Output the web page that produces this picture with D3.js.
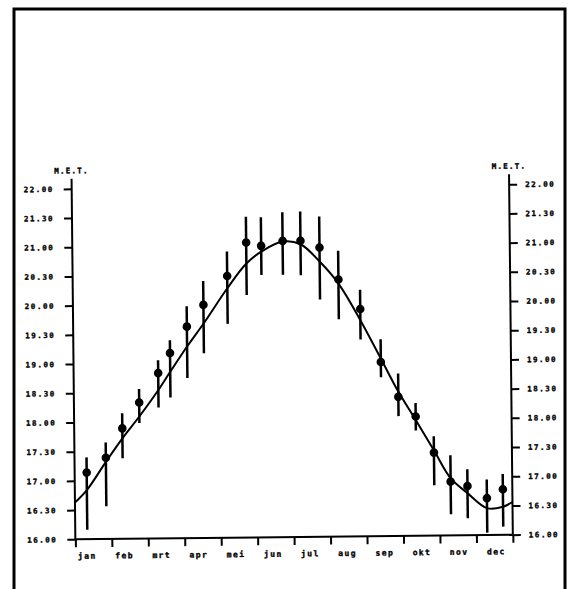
<!DOCTYPE html>
<html>
<head>
<meta charset="utf-8">
<script src="https://cdn.jsdelivr.net/npm/d3@7"></script>
<style>
  body { margin: 0; background: #fff; }
  svg { display: block; }
  .lbl { font-family: "DejaVu Sans Mono", monospace; font-weight: bold; fill: #000; stroke: #000; stroke-width: 0.35px; }
</style>
</head>
<body>
<div id="chart"></div>
<script>
// month names (Dutch) along the bottom
const months = ["jan", "feb", "mrt", "apr", "mei", "jun", "jul", "aug", "sep", "okt", "nov", "dec"];

// y ticks, hours in decimal, labelled as hh.mm
const tickValues = [16, 16.5, 17, 17.5, 18, 18.5, 19, 19.5, 20, 20.5, 21, 21.5, 22];
const tickLabels = ["16.00", "16.30", "17.00", "17.30", "18.00", "18.30", "19.00",
                    "19.30", "20.00", "20.30", "21.00", "21.30", "22.00"];

// observations: position in months, mean time and spread (hours)
const obsMonth = [0.33, 0.86, 1.32, 1.79, 2.32, 2.65, 3.12, 3.58, 4.24, 4.77, 5.18, 5.77,
                  6.26, 6.78, 7.29, 7.88, 8.43, 8.90, 9.37, 9.86, 10.31, 10.77, 11.30, 11.74];
const obsMean = [17.14, 17.39, 17.89, 18.33, 18.83, 19.17, 19.62, 19.99, 20.48, 21.05, 20.99, 21.07,
                 21.07, 20.95, 20.40, 19.89, 18.98, 18.38, 18.04, 17.42, 16.92, 16.84, 16.63, 16.78];
const obsHigh = [17.40, 17.65, 18.15, 18.56, 19.05, 19.39, 19.97, 20.40, 20.90, 21.49, 21.48, 21.56,
                 21.57, 21.48, 20.89, 20.22, 19.37, 18.78, 18.27, 17.70, 17.37, 17.13, 16.95, 17.04];
const obsLow = [16.16, 16.56, 17.38, 17.98, 18.24, 18.41, 18.74, 19.16, 19.66, 20.15, 20.49, 20.49,
                20.48, 20.06, 19.72, 19.37, 18.72, 18.05, 17.80, 16.86, 16.36, 16.29, 16.04, 16.14];

// fitted curve
const curveMonth = [0, 0.33, 0.86, 1.32, 1.79, 2.32, 2.65, 3.12, 3.58, 4.24, 4.77, 5.18, 5.77,
                    6.26, 6.78, 7.29, 7.88, 8.43, 8.90, 9.37, 9.86, 10.31, 10.77, 11.30, 11.74, 12];
const curveValue = [16.63, 16.84, 17.32, 17.72, 18.09, 18.54, 18.85, 19.28, 19.67, 20.27, 20.69, 20.89, 21.06,
                    21.01, 20.71, 20.33, 19.70, 19.04, 18.47, 17.98, 17.46, 16.98, 16.72, 16.46, 16.48, 16.56];

const W = 568, H = 589;
const plot = { left: 73.5, right: 511, top: 186.5, bottom: 537 };

const svg = d3.select("#chart").append("svg").attr("width", W).attr("height", H);
svg.append("rect").attr("width", W).attr("height", H).attr("fill", "#fff");

// page frame (open at the bottom)
svg.append("path")
  .attr("d", `M14,${H + 5}V9H565V${H + 5}`)
  .attr("fill", "none").attr("stroke", "#000").attr("stroke-width", 3);

// the scanned chart sits slightly tilted
const g = svg.append("g").attr("transform", "rotate(-0.6, 292, 362)");

const x = d3.scaleLinear().domain([0, 12]).range([plot.left, plot.right]);
const y = d3.scaleLinear().domain([16, 22]).range([plot.bottom, plot.top]);

function styleAxis(sel) {
  sel.select(".domain").remove();
  sel.selectAll(".tick line").attr("stroke", "#000").attr("stroke-width", 2);
  sel.selectAll(".tick text")
    .attr("class", "lbl")
    .style("font-size", "7.5px")
    .style("letter-spacing", "1.5px");
}

const fmt = (d) => tickLabels[tickValues.indexOf(d)];

// left axis
g.append("g")
  .attr("transform", `translate(${plot.left},0)`)
  .call(d3.axisLeft(y).tickValues(tickValues).tickFormat(fmt).tickSize(8).tickPadding(10))
  .call(styleAxis);

// right axis
g.append("g")
  .attr("transform", `translate(${plot.right},0)`)
  .call(d3.axisRight(y).tickValues(tickValues).tickFormat(fmt).tickSize(8).tickPadding(8))
  .call(styleAxis);

// bottom axis, month boundaries
g.append("g")
  .attr("transform", `translate(0,${plot.bottom})`)
  .call(d3.axisBottom(x).tickValues(d3.range(13)).tickFormat("").tickSize(8))
  .call(styleAxis);

// axis lines
[plot.left, plot.right].forEach((ax) => {
  g.append("line")
    .attr("x1", ax).attr("x2", ax)
    .attr("y1", y(16)).attr("y2", y(22) - 10)
    .attr("stroke", "#000").attr("stroke-width", 2);
});
g.append("line")
  .attr("x1", x(0)).attr("x2", x(12))
  .attr("y1", y(16)).attr("y2", y(16))
  .attr("stroke", "#000").attr("stroke-width", 2);

// month labels
const labelX = d3.scalePoint().domain(months).range([plot.left + 2.5, plot.right - 26]);
g.selectAll(".month")
  .data(months)
  .join("text")
  .attr("class", "lbl month")
  .attr("x", (d) => labelX(d))
  .attr("y", y(16) + 19.5)
  .style("font-size", "8px")
  .style("letter-spacing", "1.4px")
  .text((d) => d);

// unit labels on top of both axes
[plot.left, plot.right].forEach((ax) => {
  g.append("text")
    .attr("class", "lbl")
    .attr("x", ax)
    .attr("y", y(22) - 15.5)
    .attr("text-anchor", "middle")
    .style("font-size", "7.5px")
    .style("letter-spacing", "1.2px")
    .text("M.E.T.");
});

// fitted curve
const line = d3.line()
  .x((d) => x(d[0]))
  .y((d) => y(d[1]))
  .curve(d3.curveCatmullRom.alpha(0.5));

g.append("path")
  .datum(curveMonth.map((m, i) => [m, curveValue[i]]))
  .attr("d", line)
  .attr("fill", "none")
  .attr("stroke", "#000")
  .attr("stroke-width", 2);

// error bars
const obs = obsMonth.map((m, i) => ({ m: m, mean: obsMean[i], hi: obsHigh[i], lo: obsLow[i] }));

g.selectAll(".bar")
  .data(obs)
  .join("line")
  .attr("class", "bar")
  .attr("x1", (d) => x(d.m)).attr("x2", (d) => x(d.m))
  .attr("y1", (d) => y(d.hi)).attr("y2", (d) => y(d.lo))
  .attr("stroke", "#000")
  .attr("stroke-width", 2.5);

g.selectAll(".dot")
  .data(obs)
  .join("circle")
  .attr("class", "dot")
  .attr("cx", (d) => x(d.m))
  .attr("cy", (d) => y(d.mean))
  .attr("r", 4.3)
  .attr("fill", "#000");
</script>
</body>
</html>
